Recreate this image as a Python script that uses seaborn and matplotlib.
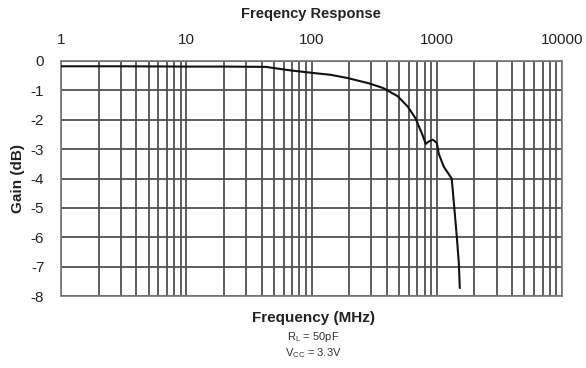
import matplotlib
matplotlib.use("Agg")
import matplotlib.pyplot as plt
import seaborn as sns
import numpy as np
import pandas as pd
from matplotlib.ticker import LogLocator, FixedLocator, NullFormatter

freq_mhz = [1, 3, 10, 20, 43, 68, 104, 142, 194, 281, 297, 356, 377, 488, 586, 679,
            773, 817, 863, 929, 1000, 1038, 1138, 1270, 1318, 1368, 1445, 1500, 1528]
gain_db = [-0.18, -0.18, -0.19, -0.19, -0.2, -0.32, -0.41, -0.47, -0.58, -0.75, -0.78, -0.89,
           -0.93, -1.2, -1.55, -1.96, -2.54, -2.82, -2.74, -2.68, -2.78, -3.16, -3.6, -3.9,
           -4.02, -4.8, -5.97, -6.87, -7.73]
x_labels = ["1", "10", "100", "1000", "10000"]
x_major = [1, 10, 100, 1000, 10000]
y_ticks = [0, -1, -2, -3, -4, -5, -6, -7, -8]

sns.set_theme(style="white")
plt.rcParams['font.family'] = ['Liberation Sans', 'DejaVu Sans']

df = pd.DataFrame({"Frequency": freq_mhz, "Gain": gain_db})

fig = plt.figure(figsize=(5.86, 3.68), dpi=100)
ax = fig.add_axes([61/586, 1 - 296/368, 501/586, 235/368])

sns.lineplot(data=df, x="Frequency", y="Gain", ax=ax, color="#111111", linewidth=1.5, zorder=3)

ax.set_xscale("log")
ax.set_xlim(1, 10000)
ax.set_ylim(-8, 0)

ax.xaxis.set_major_locator(FixedLocator(x_major))
ax.xaxis.set_minor_locator(LogLocator(base=10, subs=np.arange(2, 10)))
ax.xaxis.set_minor_formatter(NullFormatter())
ax.set_xticklabels(x_labels)
ax.xaxis.tick_top()
ax.tick_params(axis="x", which="both", length=0, pad=10, labelsize=11, colors="#222222")
ax.set_yticks(y_ticks)
ax.set_yticklabels([str(v) for v in y_ticks])
ax.tick_params(axis="y", length=5, width=1.2, color="#666666", labelsize=11, colors="#222222", pad=7)
ax.tick_params(axis="y", colors="#222222")

ax.grid(True, which="both", axis="x", color="#505050", linewidth=1.3)
ax.grid(True, which="major", axis="y", color="#505050", linewidth=1.3)
for s in ax.spines.values():
    s.set_color("#777777")
    s.set_linewidth(1.2)

ax.set_xlabel("")
ax.set_ylabel("Gain (dB)", fontsize=11, fontweight="bold", color="#222222", labelpad=4)

fig.text(311/586, 1 - 14/368, "Freqency Response", ha="center", va="center",
         fontsize=10.5, fontweight="bold", color="#222222")
fig.text(314/586, 1 - 318/368, "Frequency (MHz)", ha="center", va="center",
         fontsize=11, fontweight="bold", color="#222222")
fig.text(313/586, 1 - 337/368, r"R$_\mathregular{L}$ = 50pF", ha="center", va="center",
         fontsize=8, color="#333333")
fig.text(313/586, 1 - 353/368, r"V$_\mathregular{CC}$ = 3.3V", ha="center", va="center",
         fontsize=8, color="#333333")

fig.savefig("out.png", dpi=100)
